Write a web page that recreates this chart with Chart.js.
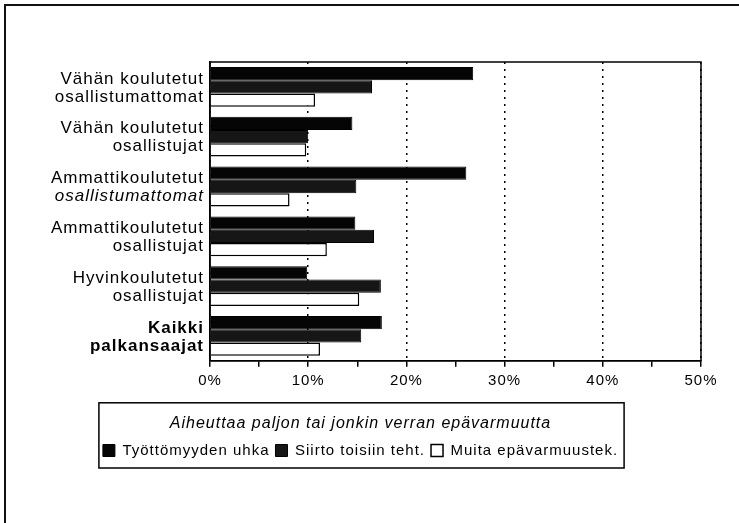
<!DOCTYPE html>
<html>
<head>
<meta charset="utf-8">
<script src="https://cdn.jsdelivr.net/npm/chart.js@4"></script>
<style>
  html, body { margin: 0; padding: 0; background: #fff; overflow: hidden; }
  #frame {
    position: absolute; left: 4px; top: 4px; width: 740px; height: 525px;
    border-left: 2px solid #111; border-top: 2px solid #111;
  }
  #wrap { position: absolute; left: 0; top: 0; width: 739px; height: 523px; }
</style>
</head>
<body>
<div id="frame"></div>
<div id="wrap"><canvas id="chart"></canvas></div>
<script>
// Työssä koettu epävarmuus koulutusryhmittäin

const FONT = "'Liberation Sans', Arial, sans-serif";

const categories = [
  ['Vähän koulutetut', 'osallistumattomat'],
  ['Vähän koulutetut', 'osallistujat'],
  ['Ammattikoulutetut', 'osallistumattomat'],
  ['Ammattikoulutetut', 'osallistujat'],
  ['Hyvinkoulutetut', 'osallistujat'],
  ['Kaikki', 'palkansaajat'],
];

const seriesNames = ['Työttömyyden uhka', 'Siirto toisiin teht.', 'Muita epävarmuustek.'];
const tyottomyys = [26.8, 14.5, 26.1, 14.8, 9.9, 17.5];
const siirto     = [16.5, 10.0, 14.9, 16.7, 17.4, 15.4];
const muita      = [10.7, 9.8, 8.1, 11.9, 15.2, 11.2];

const xTicks = [0, 10, 20, 30, 40, 50];
const legendTitle = 'Aiheuttaa paljon tai jonkin verran epävarmuutta';

// ── plugins ───────────────────────────────────────────────────

// scanned text is wide, give it a little tracking
const spacing = {
  id: 'spacing',
  beforeUpdate(chart) { chart.ctx.letterSpacing = '1px'; },
  beforeDraw(chart) { chart.ctx.letterSpacing = '1px'; },
};

// two-line category labels, mixed styles per line
const catLabels = {
  id: 'catLabels',
  afterDraw(chart) {
    const { ctx, chartArea } = chart;
    const y = chart.scales.y;
    ctx.save();
    ctx.letterSpacing = '1px';
    ctx.fillStyle = '#000';
    ctx.textAlign = 'right';
    ctx.textBaseline = 'middle';
    categories.forEach((lines, i) => {
      const cy = y.getPixelForValue(i);
      lines.forEach((t, j) => {
        let style = 'normal';
        let weight = 'normal';
        if (i === 5) weight = 'bold';
        if (i === 2 && j === 1) style = 'italic';
        ctx.font = `${style} ${weight} 17px ${FONT}`;
        ctx.fillText(t, chartArea.left - 6, cy - 8 + j * 18);
      });
    });
    ctx.restore();
  }
};

// frame round the plot and the legend
const boxes = {
  id: 'boxes',
  afterDatasetsDraw(chart) {
    const { ctx, chartArea: a } = chart;
    ctx.save();
    ctx.strokeStyle = '#000';
    ctx.lineWidth = 1.5;
    ctx.strokeRect(a.left, a.top, a.right - a.left, a.bottom - a.top);
    ctx.restore();
  },
  afterDraw(chart) {
    const lg = chart.legend;
    const hb = lg.legendHitBoxes;
    if (!hb || !hb.length) return;
    const last = hb[hb.length - 1];
    const x0 = hb[0].left - 4;
    const x1 = last.left + last.width + 6;
    const ctx = chart.ctx;
    ctx.save();
    ctx.strokeStyle = '#000';
    ctx.lineWidth = 1.5;
    ctx.strokeRect(x0, lg.top, x1 - x0, lg.bottom - lg.top);
    ctx.restore();
  }
};

// ── chart ─────────────────────────────────────────────────────

const ctx = document.getElementById('chart').getContext('2d');
new Chart(ctx, {
  type: 'bar',
  data: {
    labels: categories,
    datasets: [
      { label: seriesNames[0], data: tyottomyys, backgroundColor: '#050505', borderColor: '#000', borderWidth: 1 },
      { label: seriesNames[1], data: siirto, backgroundColor: '#161616', borderColor: '#000', borderWidth: 1 },
      { label: seriesNames[2], data: muita, backgroundColor: '#fff', borderColor: '#000', borderWidth: 1.5 },
    ]
  },
  options: {
    indexAxis: 'y',
    responsive: true,
    maintainAspectRatio: false,
    animation: false,
    categoryPercentage: 0.8,
    barPercentage: 1.0,
    layout: { padding: { left: 20, right: 38, top: 62, bottom: 55 } },
    plugins: {
      tooltip: { enabled: false },
      legend: {
        position: 'bottom',
        title: {
          display: true,
          text: legendTitle,
          color: '#000',
          font: { size: 16, style: 'italic', family: FONT },
          padding: { top: 13, bottom: 2 },
        },
        labels: {
          color: '#000',
          font: { size: 15, family: FONT },
          boxWidth: 12, boxHeight: 12,
          padding: 6,
        }
      }
    },
    scales: {
      x: {
        min: 0, max: 50,
        grid: {
          color: c => (c.tick && c.tick.value % 10 === 0) ? '#000' : 'rgba(0,0,0,0)',
          lineWidth: 1.5,
          tickLength: 6,
          tickColor: '#000',
          tickWidth: 1.5,
        },
        border: { display: true, color: '#000', width: 1.5, dash: [2, 5] },
        ticks: {
          stepSize: 5,
          autoSkip: false,
          maxRotation: 0,
          padding: 5,
          color: '#000',
          font: { size: 15, family: FONT },
          callback: v => xTicks.includes(v) ? v + '%' : '',
        },
        afterFit: s => { s.height += 8; },
      },
      y: {
        grid: { display: false },
        border: { display: true, color: '#000', width: 1.5 },
        ticks: { display: false },
        afterFit: s => { s.width = 190; },
      }
    }
  },
  plugins: [spacing, boxes, catLabels]
});
</script>
</body>
</html>
